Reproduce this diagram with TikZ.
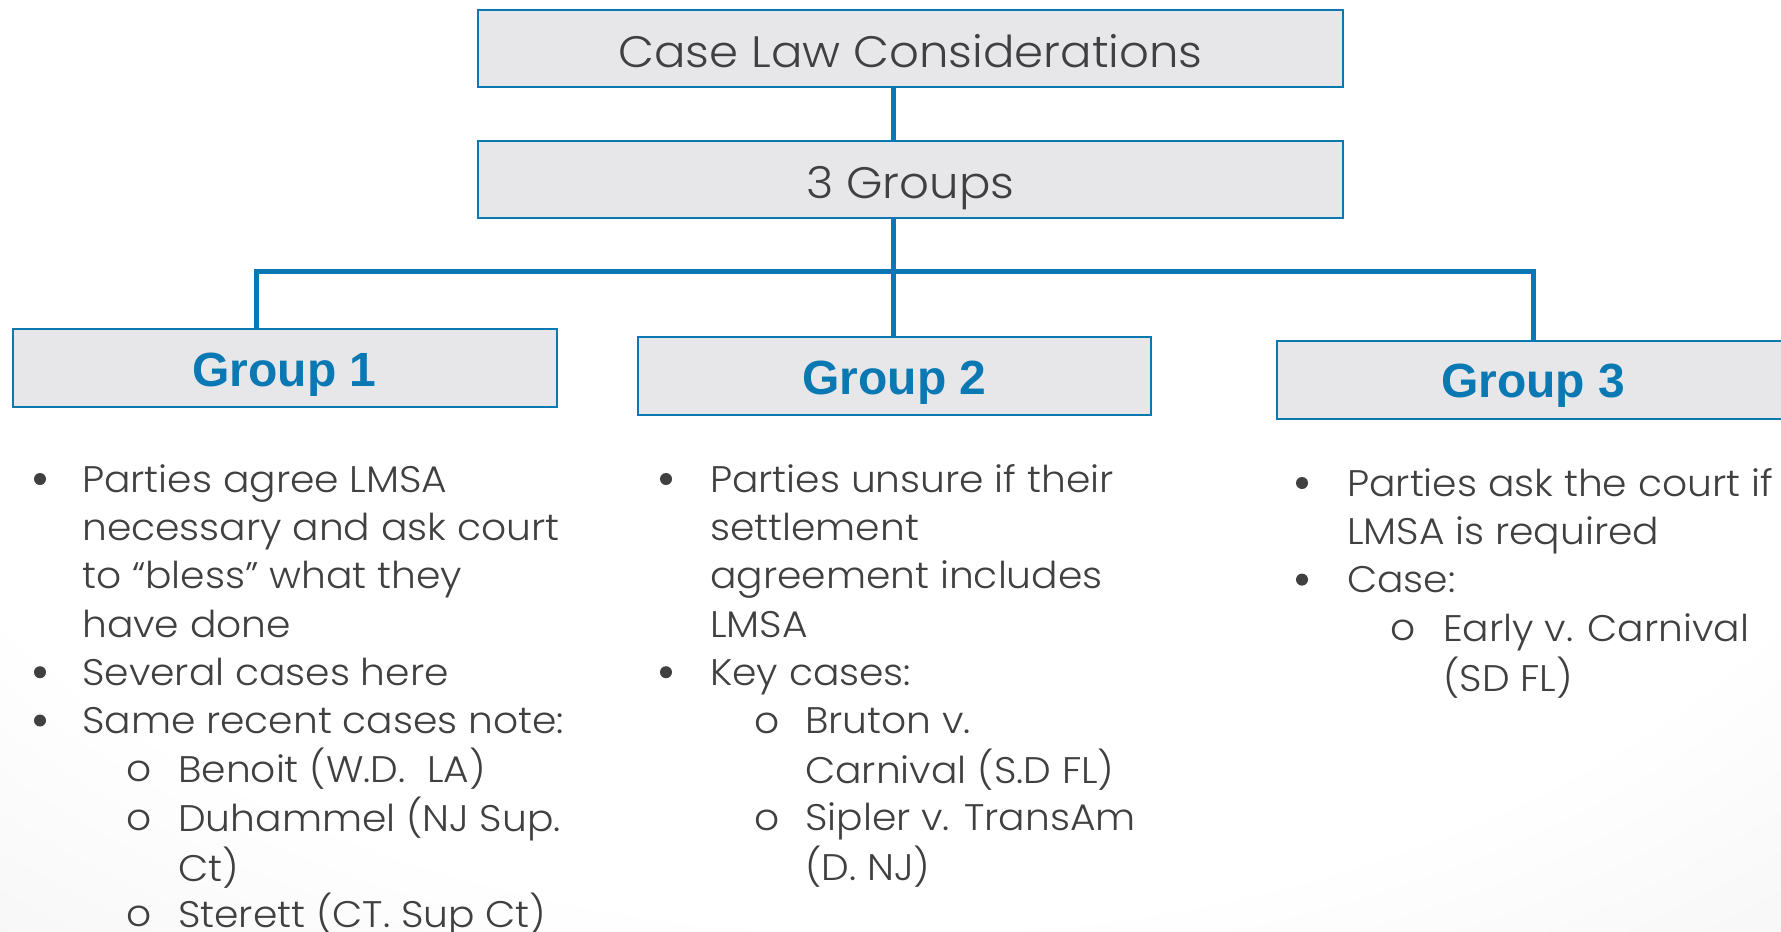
\documentclass[tikz,border=0pt]{standalone}
\usepackage{fontspec}
\setmainfont{Liberation Sans}
\newfontfamily\bodyfont{Poppins}[UprightFont={* Light}, FakeStretch=1.06]
\newfontfamily\grpfont{Liberation Sans}
\definecolor{lineblue}{HTML}{0A78B2}
\definecolor{boxfill}{HTML}{E7E7EA}
\definecolor{txtgray}{HTML}{404040}
\pgfdeclareradialshading{bgshade}{\pgfpoint{0bp}{0bp}}{color(0bp)=(white); color(24bp)=(white); color(50bp)=(black!10)}
\tikzset{
  conn/.style={draw=lineblue, line width=5pt},
  topbox/.style={draw=lineblue, line width=2pt, fill=boxfill, inner sep=0pt,
    minimum width=865pt, minimum height=77pt, text height=37pt, text depth=0pt,
    font=\bodyfont\fontsize{44}{52}\selectfont, text=txtgray},
  grpbox/.style={draw=lineblue, line width=2pt, fill=boxfill, inner sep=0pt,
    minimum height=78pt, text height=36pt, text depth=0pt,
    font=\grpfont\bfseries\fontsize{48}{56}\selectfont, text=lineblue},
  item/.style={anchor=north west, inner sep=0pt, align=left,
    font=\bodyfont\fontsize{37}{48.3}\selectfont, text=txtgray},
  dot/.style={circle, fill=txtgray, inner sep=0pt, minimum size=12pt},
  subdot/.style={anchor=base, inner sep=0pt,
    font=\bodyfont\fontsize{37}{48.3}\selectfont, text=txtgray},
}
\begin{document}
\begin{tikzpicture}[x=1pt,y=-1pt]
\useasboundingbox (0,0) rectangle (1781,932);
\begin{scope}
  \clip (0,0) rectangle (1781,932);
  \shade[shading=bgshade] (-200,-450) rectangle (1981,950);
\end{scope}

% top boxes
\node[topbox] (title) at (910.5,48.5) {Case Law Considerations};
\node[topbox] (groups) at (910.5,179.5) {3 Groups};

% group boxes
\node[grpbox, minimum width=544pt] (g1) at (284.5,368) {Group 1};
\node[grpbox, minimum width=513pt] (g2) at (894.5,376) {Group 2};
\node[grpbox, minimum width=512pt] (g3) at (1533,379.5) {Group 3};

% connectors
\coordinate (g1top) at (256,329);
\coordinate (bar) at (893,271);
\coordinate (g2top) at (893,337);
\draw[conn] (title.south -| bar) -- (groups.north -| bar);
\draw[conn] (groups.south -| bar) -- (g2top);
\draw[conn] (g1top) -- (g1top |- bar) -- (g3.north |- bar) -- (g3.north);

% Group 1 text
\node[dot] (b11) at (40,479) {};
\node[item] (t11) at (82,458.2) {\strut Parties agree LMSA\\necessary and ask court\\to “bless”\ what they\\have done};
\node[dot] (b12) at (40,672.2) {};
\node[item] (t12) at (82,651.4) {\strut Several cases here};
\node[dot] (b13) at (40,720.5) {};
\node[item] (t13) at (82,699.7) {\strut Same recent cases note:};
\node[subdot] (s11) at (139,781.8) {o};
\node[item] (u11) at (178,748.0) {\strut Benoit (W.D.\ \ LA)};
\node[subdot] (s12) at (139,830.1) {o};
\node[item] (u12) at (178,796.3) {\strut Duhammel (NJ Sup.\\Ct)};
\node[subdot] (s13) at (139,926.7) {o};
\node[item] (u13) at (178,892.9) {\strut Sterett (CT. Sup Ct)};

% Group 2 text
\node[dot] (b21) at (666,479) {};
\node[item] (t21) at (710,458.2) {\strut Parties unsure if their\\settlement\\agreement includes\\LMSA};
\node[dot] (b22) at (666,672.2) {};
\node[item] (t22) at (710,651.4) {\strut Key cases:};
\node[subdot] (s21) at (767,733.5) {o};
\node[item] (u21) at (805,699.7) {\strut Bruton v.\\Carnival (S.D FL)};
\node[subdot] (s22) at (767,830.1) {o};
\node[item] (u22) at (805,796.3) {\strut Sipler v. TransAm\\(D. NJ)};

% Group 3 text
\node[dot] (b31) at (1302,483) {};
\node[item] (t31) at (1347,462.2) {\strut Parties ask the court if\\LMSA is required};
\node[dot] (b32) at (1302,579.6) {};
\node[item] (t32) at (1347,558.8) {\strut Case:};
\node[subdot] (s31) at (1403,640.9) {o};
\node[item] (u31) at (1443,607.1) {\strut Early v. Carnival\\(SD FL)};
\end{tikzpicture}
\end{document}
